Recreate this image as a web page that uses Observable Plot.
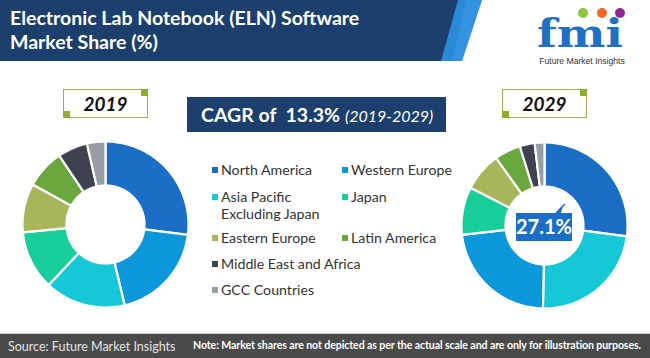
<!DOCTYPE html>
<html>
<head>
<meta charset="utf-8">
<script src="https://cdn.jsdelivr.net/npm/d3@7"></script>
<script src="https://cdn.jsdelivr.net/npm/@observablehq/plot@0.6"></script>
<style>
  html, body { margin: 0; padding: 0; background: #fff; }
  #wrap { position: relative; width: 650px; height: 358px; overflow: hidden; font-family: Lato, "Open Sans", sans-serif; background: #fff; }
  .abs { position: absolute; }
  .yearbox { width: 83px; height: 27px; border: 1px solid #a4ad4e; background: #fff; text-align: center; font-weight: 700; font-style: italic; font-size: 19px; line-height: 27px; color: #111; }
  .corner { position: absolute; width: 7px; height: 7px; background: #8cae2c; }
  .leg { font-size: 14.2px; color: #333; line-height: 17px; }
  .sw { position: absolute; width: 6px; height: 6px; }
</style>
</head>
<body>
<div id="wrap"></div>
<script>
// ---- data ----
const categories = ["North America", "Western Europe", "Asia Pacific Excluding Japan", "Japan", "Eastern Europe", "Latin America", "Middle East and Africa", "GCC Countries"];
const colors = ["#1a6ec6", "#0b98da", "#16c7d8", "#18cf9b", "#a8b55b", "#6aa83f", "#3d4250", "#999ca3"];
// 2019 shares, in drawing order (clockwise from top)
const order2019 = ["North America", "Western Europe", "Asia Pacific Excluding Japan", "Japan", "Eastern Europe", "Latin America", "Middle East and Africa", "GCC Countries"];
const share2019 = [27.0, 19.3, 15.7, 11.5, 9.5, 7.6, 5.8, 3.6];
// 2029 shares, in drawing order (clockwise from top)
const order2029 = ["North America", "Asia Pacific Excluding Japan", "Western Europe", "Japan", "Eastern Europe", "Latin America", "Middle East and Africa", "GCC Countries"];
const share2029 = [27.1, 23.2, 22.9, 9.3, 7.6, 5.1, 2.9, 1.9];
const legendLabels = ["North America", "Western Europe", "Asia Pacific\nExcluding Japan", "Japan", "Eastern Europe", "Latin America", "Middle East and Africa", "GCC Countries"];
const titleText = ["Electronic Lab Notebook (ELN) Software", "Market Share (%)"];
const cagrValue = "13.3%";
const cagrPeriod = "(2019-2029)";
const years = ["2019", "2029"];
const sourceText = "Source: Future Market Insights";
const noteText = "Note: Market shares are not depicted as per the actual scale and are only for illustration purposes.";

const wrap = document.getElementById("wrap");
function el(tag, cls, style, html) {
  const e = document.createElement(tag);
  if (cls) e.className = cls;
  if (style) e.setAttribute("style", style);
  if (html != null) e.innerHTML = html;
  wrap.appendChild(e);
  return e;
}

// header band
const hdr = document.createElementNS("http://www.w3.org/2000/svg", "svg");
hdr.setAttribute("width", 650); hdr.setAttribute("height", 62);
hdr.setAttribute("style", "position:absolute;left:0;top:0;");
hdr.innerHTML = `<polygon points="0,0 482,0 462,61 0,61" fill="#2b8ad8"/>
<polygon points="0,0 458,0 441,61 0,61" fill="#1c3f6d"/>
<polygon points="466,0 482,0 462,61 452,61" fill="#3a9ae6" opacity="0.6"/>`;
wrap.appendChild(hdr);
el("div", "abs", "left:10px;top:6px;color:#fff;font-weight:700;font-size:19.5px;line-height:24px;", titleText.join("<br>"));

// logo
const logo = document.createElementNS("http://www.w3.org/2000/svg", "svg");
logo.setAttribute("width", 110); logo.setAttribute("height", 70);
logo.setAttribute("style", "position:absolute;left:532px;top:0;");
logo.innerHTML = `<circle cx="51" cy="13" r="5" fill="#8dc63f"/><circle cx="70" cy="13" r="5" fill="#f26522"/><circle cx="88" cy="13" r="5" fill="#92278f"/>
<text x="5" y="47" font-family="DejaVu Serif, serif" font-weight="700" font-size="40" fill="#1f6fc2" textLength="86" lengthAdjust="spacingAndGlyphs">fmi</text>
<text x="50" y="64" text-anchor="middle" font-family="Liberation Sans, Arial, sans-serif" font-size="8.6" fill="#333">Future Market Insights</text>`;
wrap.appendChild(logo);

// year boxes
function yearBox(x, y, txt) {
  const b = el("div", "abs yearbox", `left:${x}px;top:${y}px;`, txt);
  const c1 = document.createElement("div"); c1.className = "corner"; c1.setAttribute("style", "right:-1px;top:-1px;"); b.appendChild(c1);
  const c2 = document.createElement("div"); c2.className = "corner"; c2.setAttribute("style", "left:-1px;bottom:-1px;"); b.appendChild(c2);
}
yearBox(63, 89, years[0]);
yearBox(502, 89, years[1]);

// CAGR banner
el("div", "abs", "left:187px;top:97px;width:259px;height:35px;background:#1c3f6d;color:#fff;font-size:19.5px;line-height:35px;white-space:nowrap;",
  `<span style="margin-left:14px;font-weight:700;">CAGR of&nbsp; ${cagrValue}</span> <span style="font-style:italic;font-size:16px;">${cagrPeriod}</span>`);

// legend
const legX = [212, 342];
const legY = [170, 197, 238, 264, 290];
const slots = [[0,0],[1,0],[0,1],[1,1],[0,2],[1,2],[0,3],[0,4]];
categories.forEach((c, i) => {
  const [col, row] = slots[i];
  const x = legX[col], y = legY[row];
  el("div", "sw", `left:${x}px;top:${y - 3}px;background:${colors[i]};`);
  el("div", "abs leg", `left:${x + 9}px;top:${y - 9}px;white-space:pre;`, legendLabels[i]);
});

// donuts
function donut(order, values, cx, cy, R, r) {
  const pie = d3.pie().sort(null).value(d => d.value).startAngle(0).endAngle(2 * Math.PI);
  const arcs = pie(order.map((name, i) => ({name, value: values[i]})));
  const pts = [];
  arcs.forEach(a => {
    const n = Math.max(8, Math.ceil((a.endAngle - a.startAngle) / 0.02));
    const ring = [];
    for (let k = 0; k <= n; k++) {
      const t = a.startAngle + (a.endAngle - a.startAngle) * k / n;
      ring.push({name: a.data.name, x: R * Math.sin(t), y: R * Math.cos(t)});
    }
    for (let k = n; k >= 0; k--) {
      const t = a.startAngle + (a.endAngle - a.startAngle) * k / n;
      ring.push({name: a.data.name, x: r * Math.sin(t), y: r * Math.cos(t)});
    }
    ring.push(ring[0]);
    pts.push(...ring);
  });
  const size = 2 * R + 6;
  const chart = Plot.plot({
    width: size, height: size, margin: 3,
    x: {domain: [-R, R], axis: null},
    y: {domain: [-R, R], axis: null},
    color: {domain: categories, range: colors},
    marks: [
      Plot.line(pts, {x: "x", y: "y", z: "name", fill: "name", stroke: "white", strokeWidth: 2.2, curve: "linear"})
    ]
  });
  chart.style.position = "absolute";
  chart.style.left = (cx - size / 2) + "px";
  chart.style.top = (cy - size / 2) + "px";
  chart.style.background = "transparent";
  wrap.appendChild(chart);
}
donut(order2019, share2019, 105, 224, 83, 39);
donut(order2029, share2029, 544, 225, 83, 39);

// 27.1% callout
const lab = document.createElementNS("http://www.w3.org/2000/svg", "svg");
lab.setAttribute("width", 70); lab.setAttribute("height", 45);
lab.setAttribute("style", "position:absolute;left:512px;top:200px;");
lab.innerHTML = `<path d="M44,13 L51,5 L49,13 Z" fill="#1a6ec6"/><line x1="44" y1="13" x2="53" y2="4" stroke="#1a6ec6" stroke-width="1.5"/>
<rect x="4" y="13" width="56" height="28" fill="#1a6ec6"/>
<text x="32" y="34" text-anchor="middle" font-family="Lato, sans-serif" font-weight="700" font-size="20" fill="#fff">${share2029[0].toFixed(1)}%</text>`;
wrap.appendChild(lab);

// footer
el("div", "abs", "left:0;top:333px;width:650px;height:25px;background:#4a4a4a;border-top:1px solid #cfcfcf;");
el("div", "abs", "left:8px;top:339px;color:#e4e4e4;font-size:12.5px;", sourceText);
el("div", "abs", "left:193px;top:339px;color:#fff;font-size:10.6px;font-weight:700;letter-spacing:-0.1px;white-space:nowrap;", noteText);
</script>
</body>
</html>
